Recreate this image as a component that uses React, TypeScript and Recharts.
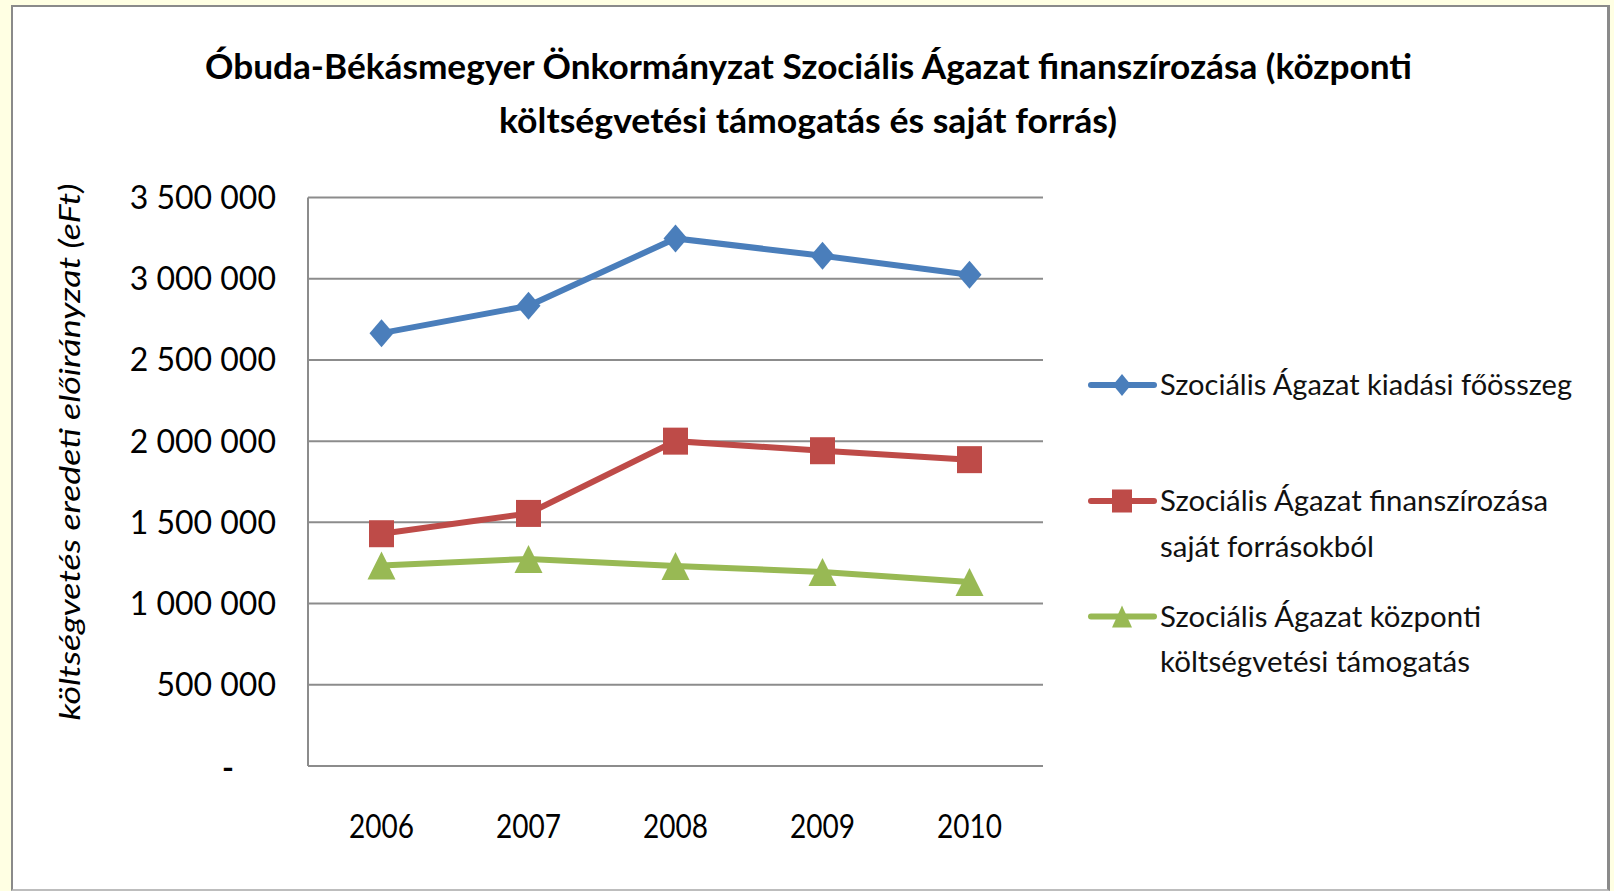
import React from 'react';
import { LineChart, Line, XAxis, YAxis, CartesianGrid } from 'recharts';

const years = ['2006', '2007', '2008', '2009', '2010'];
const kiadasi = [2665000, 2833000, 3248000, 3141000, 3024000];
const sajat = [1430000, 1555000, 2000000, 1941000, 1886000];
const kozponti = [1235000, 1275000, 1232000, 1195000, 1133000];
const yTicks = [0, 500000, 1000000, 1500000, 2000000, 2500000, 3000000, 3500000];

const titleLines = [
  'Óbuda-Békásmegyer Önkormányzat Szociális Ágazat finanszírozása (központi',
  'költségvetési támogatás és saját forrás)',
];
const yAxisTitle = 'költségvetés eredeti előirányzat (eFt)';
const legendItems = [
  { lines: ['Szociális Ágazat kiadási főösszeg'], widths: [412] },
  { lines: ['Szociális Ágazat finanszírozása', 'saját forrásokból'], widths: [388, 214] },
  { lines: ['Szociális Ágazat központi', 'költségvetési támogatás'], widths: [321, 310] },
];

const BLUE = '#4A7EBB';
const RED = '#BE4B48';
const GREEN = '#98B954';
const GRID = '#8C8C8C';
const FONT = 'Lato, "Open Sans", sans-serif';

const data = years.map((y, i) => ({ year: y, kiadasi: kiadasi[i], sajat: sajat[i], kozponti: kozponti[i] }));

const fmt = (v: number) => (v === 0 ? '-' : String(v).replace(/\B(?=(\d{3})+(?!\d))/g, ' '));

const Diamond = (p: any) => {
  const { cx, cy } = p;
  if (cx == null || cy == null) return null;
  return <path d={`M${cx},${cy - 14} L${cx + 12},${cy} L${cx},${cy + 14} L${cx - 12},${cy} Z`} fill={BLUE} />;
};
const Square = (p: any) => {
  const { cx, cy } = p;
  if (cx == null || cy == null) return null;
  return <rect x={cx - 12.5} y={cy - 13.5} width={25} height={27} fill={RED} />;
};
const Triangle = (p: any) => {
  const { cx, cy } = p;
  if (cx == null || cy == null) return null;
  return <path d={`M${cx},${cy - 14} L${cx + 14},${cy + 14} L${cx - 14},${cy + 14} Z`} fill={GREEN} />;
};

const YTick = (p: any) => {
  const { x, y, payload } = p;
  const v = payload.value as number;
  if (v === 0) {
    return (
      <text x={x - 42} y={y} dy="0.42em" textAnchor="end" fontFamily={FONT} fontWeight="bold" fontSize={32} fill="#000">
        -
      </text>
    );
  }
  return (
    <text x={x} y={y} dy="0.36em" textAnchor="end" fontFamily={FONT} fontSize={32} fill="#000">
      {fmt(v)}
    </text>
  );
};

const XTick = (p: any) => {
  const { x, y, payload } = p;
  return (
    <text x={x} y={y + 72} textAnchor="middle" fontFamily={FONT} fontSize={32} fill="#000" textLength={65} lengthAdjust="spacingAndGlyphs">
      {payload.value}
    </text>
  );
};

const legendY = [385, 501, 616.5];
const legendColors = [BLUE, RED, GREEN];

const LegendMarker = ({ i, y }: { i: number; y: number }) => {
  const cx = 1122;
  const c = legendColors[i];
  let m: React.ReactNode = null;
  if (i === 0) m = <path d={`M${cx},${y - 11} L${cx + 9},${y} L${cx},${y + 11} L${cx - 9},${y} Z`} fill={c} />;
  if (i === 1) m = <rect x={cx - 10} y={y - 11.5} width={20} height={23} fill={c} />;
  if (i === 2) m = <path d={`M${cx},${y - 11} L${cx + 10},${y + 11} L${cx - 10},${y + 11} Z`} fill={c} />;
  return (
    <g>
      <line x1={1091} x2={1154} y1={y} y2={y} stroke={c} strokeWidth={6} strokeLinecap="round" />
      {m}
    </g>
  );
};

export default function App() {
  return (
    <div style={{ position: 'absolute', left: 0, top: 0, width: 1614, height: 891, background: '#FFFFE3', overflow: 'hidden' }}>
      <div
        style={{
          position: 'absolute',
          left: 11,
          top: 5,
          width: 1599,
          height: 886,
          boxSizing: 'border-box',
          background: '#FFFFFF',
          borderLeft: '2px solid #8A8A8A',
          borderTop: '2px solid #8A8A8A',
          borderRight: '3px solid #8A8A8A',
          borderBottom: '2px solid #BDBDBD',
        }}
      />
      <div style={{ position: 'absolute', left: 0, top: 0 }}>
        <LineChart width={1614} height={891} data={data} margin={{ top: 197.5, right: 571, bottom: 65, left: 108 }}>
          <CartesianGrid vertical={false} stroke={GRID} strokeWidth={2} />
          <XAxis
            dataKey="year"
            height={60}
            padding={{ left: 73.5, right: 73.5 }}
            tickLine={false}
            tickSize={0}
            tickMargin={0}
            axisLine={{ stroke: GRID, strokeWidth: 2 }}
            tick={<XTick />}
            interval={0}
          />
          <YAxis
            width={200}
            domain={[0, 3500000]}
            ticks={yTicks}
            interval={0}
            tickLine={false}
            tickSize={0}
            tickMargin={32}
            axisLine={{ stroke: GRID, strokeWidth: 2 }}
            tick={<YTick />}
          />
          <Line dataKey="kiadasi" stroke={BLUE} strokeWidth={6} isAnimationActive={false} dot={<Diamond />} activeDot={false} />
          <Line dataKey="sajat" stroke={RED} strokeWidth={6} isAnimationActive={false} dot={<Square />} activeDot={false} />
          <Line dataKey="kozponti" stroke={GREEN} strokeWidth={6} isAnimationActive={false} dot={<Triangle />} activeDot={false} />
        </LineChart>
      </div>
      <svg width={1614} height={891} style={{ position: 'absolute', left: 0, top: 0, pointerEvents: 'none' }}>
        <text x={808.5} y={79} textAnchor="middle" fontFamily={FONT} fontWeight="bold" fontSize={35} fill="#000" textLength={1207} lengthAdjust="spacingAndGlyphs">
          {titleLines[0]}
        </text>
        <text x={808} y={133} textAnchor="middle" fontFamily={FONT} fontWeight="bold" fontSize={35} fill="#000" textLength={618} lengthAdjust="spacingAndGlyphs">
          {titleLines[1]}
        </text>
        <text
          transform="translate(70,452) rotate(-90)"
          x={0}
          y={0}
          dy="0.35em"
          textAnchor="middle"
          fontFamily={FONT}
          fontStyle="italic"
          fontSize={29}
          fill="#000"
          textLength={537}
          lengthAdjust="spacingAndGlyphs"
        >
          {yAxisTitle}
        </text>
        {legendItems.map((it, i) => (
          <g key={i}>
            <LegendMarker i={i} y={legendY[i]} />
            {it.lines.map((ln, j) => (
              <text
                key={j}
                x={1160}
                y={legendY[i] + 10 + j * 45.5}
                fontFamily={FONT}
                fontSize={28}
                fill="#111"
                textLength={it.widths[j]}
                lengthAdjust="spacingAndGlyphs"
              >
                {ln}
              </text>
            ))}
          </g>
        ))}
      </svg>
    </div>
  );
}
